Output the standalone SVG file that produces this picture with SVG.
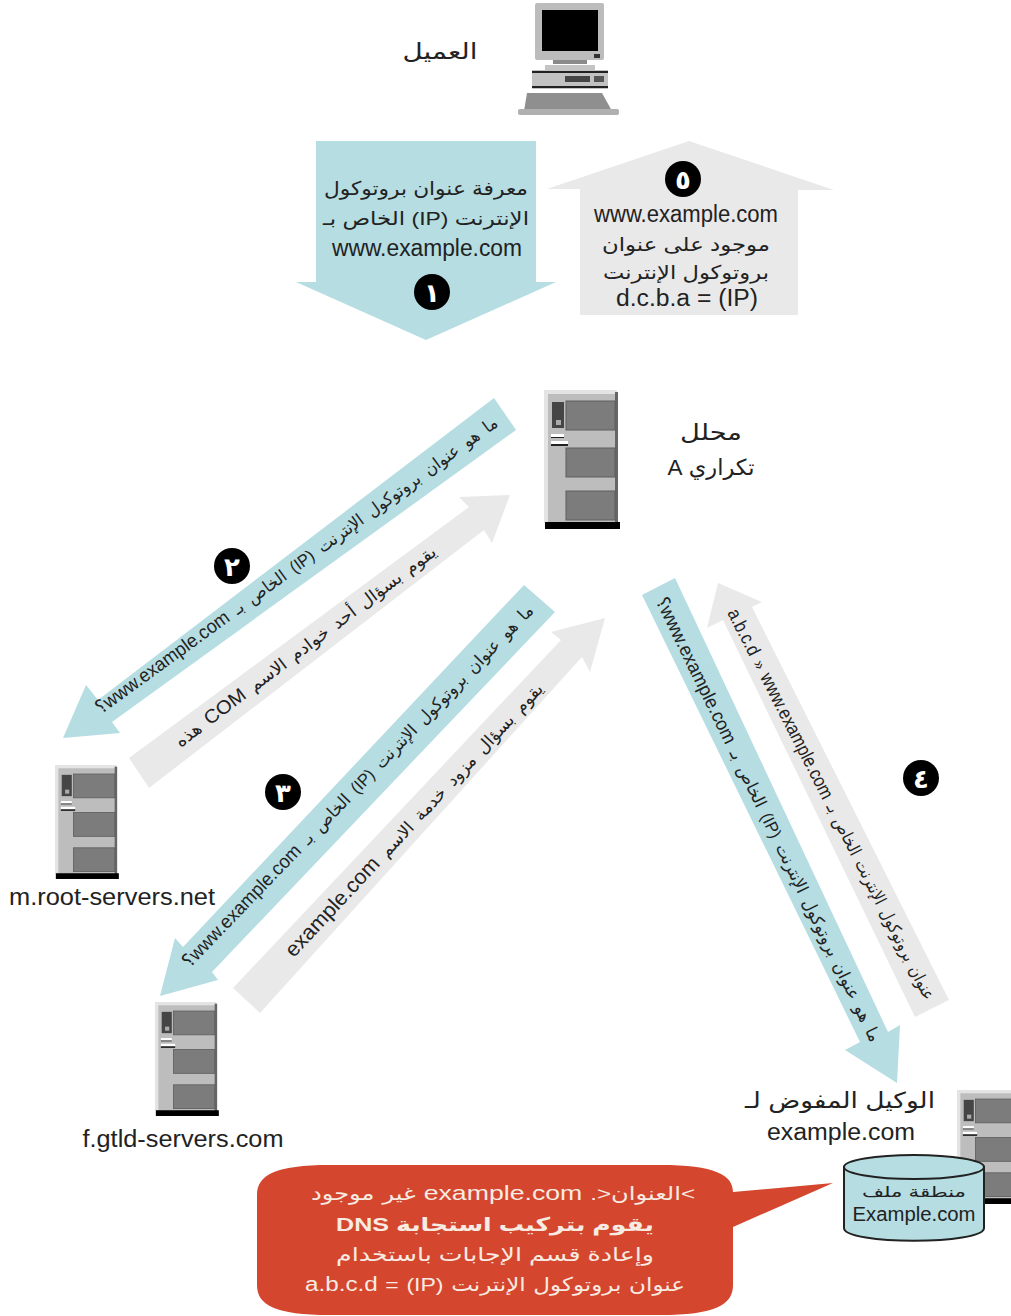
<svg xmlns="http://www.w3.org/2000/svg" xmlns:xlink="http://www.w3.org/1999/xlink" width="1011" height="1316" viewBox="0 0 1011 1316">
<style>
text{font-family:"Liberation Sans","DejaVu Sans",sans-serif;fill:#222;text-anchor:middle}
.rtl{direction:rtl;unicode-bidi:embed}
.l{font-size:23px}
.a{font-size:19px}
.s{font-size:17px;word-spacing:4px}
.m{font-size:19px;word-spacing:0}
.g{font-size:21px;word-spacing:0}
.blue{fill:#b5dde2}
.grey{fill:#e9e9e9}
.num circle{fill:#000}
.num text{fill:#fff;font-size:26px;font-weight:bold;font-family:"DejaVu Sans",sans-serif}
.w text{fill:#f7ebe2}
</style>
<defs>
<filter id="soft" x="-5%" y="-5%" width="110%" height="110%"><feGaussianBlur stdDeviation="0.7"/></filter>
<g id="server" filter="url(#soft)">
<rect x="0" y="0" width="73" height="133" fill="#e4e4e4"/>
<rect x="4" y="4" width="68" height="129" fill="#bdbdbd"/>
<rect x="71" y="2" width="3" height="131" fill="#666"/>
<rect x="22" y="11" width="49" height="29" fill="#7c7c7c" stroke="#5e5e5e"/>
<rect x="22" y="58" width="49" height="29" fill="#7c7c7c" stroke="#5e5e5e"/>
<rect x="22" y="101" width="49" height="29" fill="#7c7c7c" stroke="#5e5e5e"/>
<rect x="8" y="12" width="12" height="26" fill="#444"/>
<rect x="12" y="30" width="5" height="5" fill="#aaa"/>
<rect x="7" y="44" width="13" height="3" fill="#fff"/>
<rect x="7" y="47" width="13" height="1" fill="#222"/>
<rect x="7" y="51" width="17" height="3" fill="#fff"/>
<rect x="7" y="54" width="17" height="2" fill="#222"/>
<rect x="1" y="132" width="75" height="7" fill="#000"/>
</g>
</defs>
<rect width="1011" height="1316" fill="#fff"/>

<g id="connectors">
<polygon id="arrow1" class="blue" points="316,141 536,141 536,282 556,282 426,340 296,282 316,282"/>
<polygon id="arrow5" class="grey" points="689,141 834,190 798,190 798,315 580,315 580,189 547,189"/>
<polygon id="arrow2q" class="blue" points="494,398 516,430 112,722 120,733 63,738 86,685 98,700"/>
<polygon id="arrow2r" class="grey" points="129,758 149,788 484,530 492,543 510,495 459,497 469,507"/>
<polygon id="arrow3q" class="blue" points="524,585 555,612 212,972 218,980 160,996 175,938 183,947"/>
<polygon id="arrow3r" class="grey" points="233,988 260,1013 582,657 590,672 605,618 551,632 561,640"/>
<polygon id="arrow4q" class="blue" points="642,595 675,578 888,1032 900,1025 897,1083 845,1050 860,1042"/>
<polygon id="arrow4r" class="grey" points="915,1017 949,1000 752,607 762,602 718,583 707,628 723,620"/>
<text class="rtl s" transform="translate(300,570) rotate(-36) " textLength="492" lengthAdjust="spacingAndGlyphs">ما هو عنوان بروتوكول الإنترنت (IP) الخاص بـ <tspan class="m">www.example.com؟</tspan></text>
<text class="rtl s" transform="translate(309,651) rotate(-37)" textLength="322" lengthAdjust="spacingAndGlyphs" style="word-spacing:3px">يقوم بسؤال أحد خوادم الاسم <tspan class="m">COM</tspan> هذه</text>
<text class="rtl s" transform="translate(362,790) rotate(-46)" textLength="496" lengthAdjust="spacingAndGlyphs">ما هو عنوان بروتوكول الإنترنت (IP) الخاص بـ <tspan class="m">www.example.com؟</tspan></text>
<text class="rtl s" transform="translate(419,824) rotate(-47)" textLength="367" lengthAdjust="spacingAndGlyphs">يقوم بسؤال مزود خدمة الاسم <tspan class="g">example.com</tspan></text>
<text class="rtl s" transform="translate(763,822) rotate(64)" textLength="492" lengthAdjust="spacingAndGlyphs">ما هو عنوان بروتوكول الإنترنت (IP) الخاص بـ <tspan class="m">www.example.com؟</tspan></text>
<text class="rtl s" transform="translate(826,807) rotate(63)" textLength="436" lengthAdjust="spacingAndGlyphs" style="word-spacing:3px">عنوان بروتوكول الإنترنت الخاص بـ <tspan class="m">www.example.com</tspan>&#x200F; «&#x200F; <tspan class="m">a.b.c.d</tspan></text>
<text class="rtl a" x="426" y="195" textLength="204" lengthAdjust="spacingAndGlyphs">معرفة عنوان بروتوكول</text>
<text class="rtl a" x="426" y="225" textLength="206" lengthAdjust="spacingAndGlyphs">الإنترنت (IP) الخاص بـ</text>
<text class="l" x="427" y="256" textLength="190" lengthAdjust="spacingAndGlyphs">www.example.com</text>
<text class="l" x="686" y="222" textLength="184" lengthAdjust="spacingAndGlyphs">www.example.com</text>
<text class="rtl a" x="686" y="251" textLength="168" lengthAdjust="spacingAndGlyphs">موجود على عنوان</text>
<text class="rtl a" x="686" y="279" textLength="166" lengthAdjust="spacingAndGlyphs">بروتوكول الإنترنت</text>
<text class="l" x="687" y="306" textLength="142" lengthAdjust="spacingAndGlyphs">d.c.b.a = (IP)</text>
</g>

<g id="num1" class="num"><circle cx="432" cy="292" r="18"/><text x="432" y="302">١</text></g>
<g id="num2" class="num"><circle cx="232" cy="566" r="18"/><text x="232" y="576">٢</text></g>
<g id="num3" class="num"><circle cx="283" cy="792" r="18"/><text x="283" y="802">٣</text></g>
<g id="num4" class="num"><circle cx="921" cy="778" r="18"/><text x="921" y="788">٤</text></g>
<g id="num5" class="num"><circle cx="683" cy="179" r="18"/><text x="683" y="189">٥</text></g>

<g id="client">
<g filter="url(#soft)">
<rect x="535" y="3" width="69" height="57" rx="2" fill="#bcbcbc"/>
<rect x="542" y="10" width="56" height="41" fill="#000"/>
<rect x="594" y="54" width="6" height="4" fill="#333"/>
<rect x="553" y="60" width="34" height="4" fill="#8a8a8a"/>
<rect x="545" y="65" width="50" height="5" fill="#c4c4c4"/>
<rect x="532" y="70" width="76" height="19" fill="#c2c2c2"/>
<rect x="532" y="71" width="76" height="2" fill="#222"/>
<rect x="532" y="86" width="76" height="2" fill="#222"/>
<rect x="565" y="76" width="25" height="6" fill="#444"/>
<rect x="594" y="76" width="10" height="6" fill="#555"/>
<polygon points="527,93 602,93 612,111 524,111" fill="#8f8f8f"/>
<rect x="518" y="109" width="101" height="6" rx="2" fill="#b0b0b0"/>
</g>
<text class="rtl a" x="440" y="59" style="font-size:22px" textLength="75" lengthAdjust="spacingAndGlyphs">العميل</text>
</g>

<g id="resolver">
<use href="#server" xlink:href="#server" x="544" y="390"/>
<text class="rtl a" x="711" y="440" style="font-size:22px" textLength="62" lengthAdjust="spacingAndGlyphs">محلل</text>
<text class="rtl a" x="711" y="475" style="font-size:22px" textLength="87" lengthAdjust="spacingAndGlyphs">تكراري A</text>
</g>

<g id="root-server">
<use href="#server" xlink:href="#server" transform="translate(55,765) scale(0.84,0.82)"/>
<text class="l" x="112" y="905" textLength="206" lengthAdjust="spacingAndGlyphs">m.root-servers.net</text>
</g>

<g id="gtld-server">
<use href="#server" xlink:href="#server" transform="translate(155,1002) scale(0.84,0.82)"/>
<text class="l" x="183" y="1147" textLength="201" lengthAdjust="spacingAndGlyphs">f.gtld-servers.com</text>
</g>

<g id="auth-server">
<use href="#server" xlink:href="#server" transform="translate(957,1090) scale(0.84,0.82)"/>
<text class="rtl a" x="840" y="1108" style="font-size:22px" textLength="190" lengthAdjust="spacingAndGlyphs">الوكيل المفوض لـ</text>
<text class="l" x="841" y="1140" textLength="148" lengthAdjust="spacingAndGlyphs">example.com</text>
</g>

<g id="zone-file">
<path d="M844,1167 V1228 C844,1245 984,1245 984,1228 V1167 Z" fill="#b5dde2" stroke="#222" stroke-width="2"/>
<ellipse cx="914" cy="1167" rx="70" ry="12" fill="#b5dde2" stroke="#222" stroke-width="2"/>
<text class="rtl" x="914" y="1197" style="font-size:15px" textLength="104" lengthAdjust="spacingAndGlyphs">منطقة ملف</text>
<text x="914" y="1221" style="font-size:20px" textLength="123" lengthAdjust="spacingAndGlyphs">Example.com</text>
</g>

<g id="callout" class="w">
<path d="M330,1165 H660 C715,1165 733,1175 733,1192 L833,1183 L733,1227 V1285 C733,1305 715,1315 660,1315 H330 C275,1315 257,1305 257,1285 V1195 C257,1175 275,1165 330,1165 Z" fill="#d5462e"/>
<text class="rtl a" x="503" y="1200" textLength="384" lengthAdjust="spacingAndGlyphs" style="word-spacing:1px">&gt;العنوان&lt;. <tspan style="font-size:21px;word-spacing:0">example.com</tspan> غير موجود</text>
<text class="rtl a" x="495" y="1231" style="font-weight:bold" textLength="318" lengthAdjust="spacingAndGlyphs">يقوم بتركيب استجابة DNS</text>
<text class="rtl a" x="495" y="1261" textLength="318" lengthAdjust="spacingAndGlyphs">وإعادة قسم الإجابات باستخدام</text>
<text class="rtl a" x="495" y="1291" textLength="380" lengthAdjust="spacingAndGlyphs" style="word-spacing:1px">عنوان بروتوكول الإنترنت (IP) = <tspan style="font-size:20px;word-spacing:0">a.b.c.d</tspan></text>
</g>
</svg>
